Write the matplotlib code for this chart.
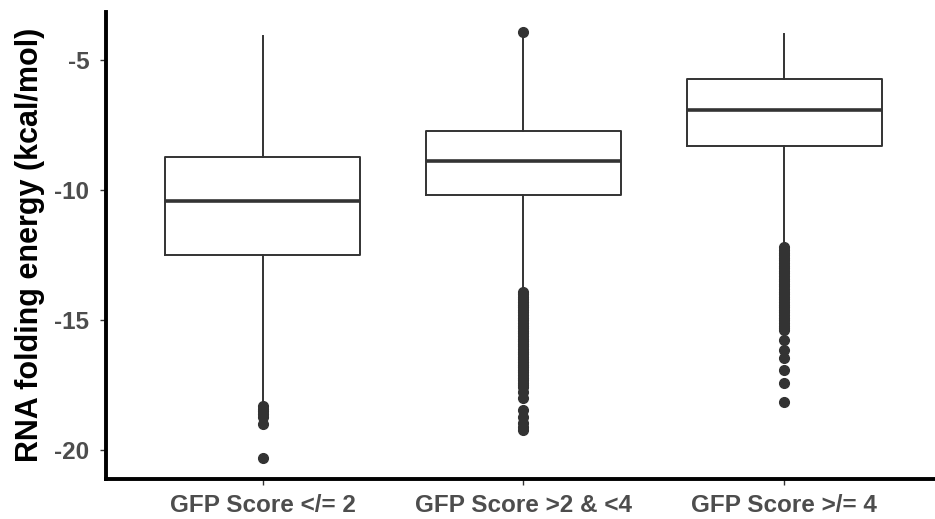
import matplotlib
matplotlib.use("Agg")
import matplotlib.pyplot as plt

# folding energy summary per GFP score group
groups = ["GFP Score </= 2", "GFP Score >2 & <4", "GFP Score >/= 4"]
q1 = [-12.5, -10.19, -8.31]
med = [-10.42, -8.88, -6.92]
q3 = [-8.73, -7.73, -5.73]
whislo = [-18.15, -13.85, -12.15]
whishi = [-4.08, -4.08, -4.0]

fliers_low = [-18.3, -18.4, -18.5, -18.6, -18.7, -19.0, -20.3]
fliers_mid = [-3.92,
              -13.9, -14.0, -14.1, -14.2, -14.3, -14.4, -14.5, -14.6, -14.7,
              -14.8, -14.9, -15.0, -15.1, -15.2, -15.3, -15.4, -15.5, -15.6,
              -15.7, -15.8, -15.9, -16.0, -16.1, -16.2, -16.3, -16.4, -16.5,
              -16.6, -16.7, -16.8, -16.9, -17.0, -17.1, -17.2, -17.3, -17.4,
              -17.5, -17.58, -17.77, -18.0, -18.46, -18.73, -18.96, -19.1, -19.23]
fliers_high = [-12.2, -12.3, -12.4, -12.5, -12.6, -12.7, -12.8, -12.9, -13.0,
               -13.1, -13.2, -13.3, -13.4, -13.5, -13.6, -13.7, -13.8, -13.9,
               -14.0, -14.1, -14.2, -14.3, -14.4, -14.5, -14.6, -14.7, -14.8,
               -14.9, -15.0, -15.1, -15.2, -15.3, -15.38, -15.77, -16.15,
               -16.46, -16.92, -17.42, -18.15]
fliers = [fliers_low, fliers_mid, fliers_high]

stats = []
for i in range(3):
    stats.append(dict(label=groups[i], q1=q1[i], med=med[i], q3=q3[i],
                      whislo=whislo[i], whishi=whishi[i], fliers=fliers[i]))

plt.rcParams['font.family'] = ['Liberation Sans', 'DejaVu Sans']

fig = plt.figure(figsize=(9.35, 5.19), dpi=100)
ax = fig.add_axes([106/935, 40/519, 835/935, 467/519])

dark = "#333333"
ax.bxp(stats, positions=[1, 2, 3], widths=0.75, showcaps=False,
       boxprops=dict(color=dark, linewidth=1.4),
       whiskerprops=dict(color=dark, linewidth=1.4),
       medianprops=dict(color=dark, linewidth=2.6, solid_capstyle="butt"),
       flierprops=dict(marker="o", markerfacecolor=dark, markeredgecolor=dark,
                       markersize=7, linestyle="none"))

ax.set_xlim(0.4, 3.6)
ax.set_ylim(-21.1, -3.15)
ax.set_yticks([-20, -15, -10, -5])
ax.set_yticklabels(["-20", "-15", "-10", "-5"])
ax.set_xticks([1, 2, 3])
ax.set_xticklabels(groups)

for side in ["top", "right"]:
    ax.spines[side].set_visible(False)
for side in ["left", "bottom"]:
    ax.spines[side].set_linewidth(2.8)
    ax.spines[side].set_color("black")

ax.tick_params(axis="both", length=4, width=1, color="#333333",
               labelcolor="#4D4D4D", labelsize=17.5)
ax.tick_params(axis="x", pad=7)
ax.tick_params(axis="y", pad=8)
for lab in ax.get_xticklabels() + ax.get_yticklabels():
    lab.set_fontweight("bold")

fig.text(30/935, 1 - 245/519, "RNA folding energy (kcal/mol)", rotation=90,
         ha="center", va="center", fontsize=22, fontweight="bold",
         color="black")

fig.savefig("out.png", dpi=100)
